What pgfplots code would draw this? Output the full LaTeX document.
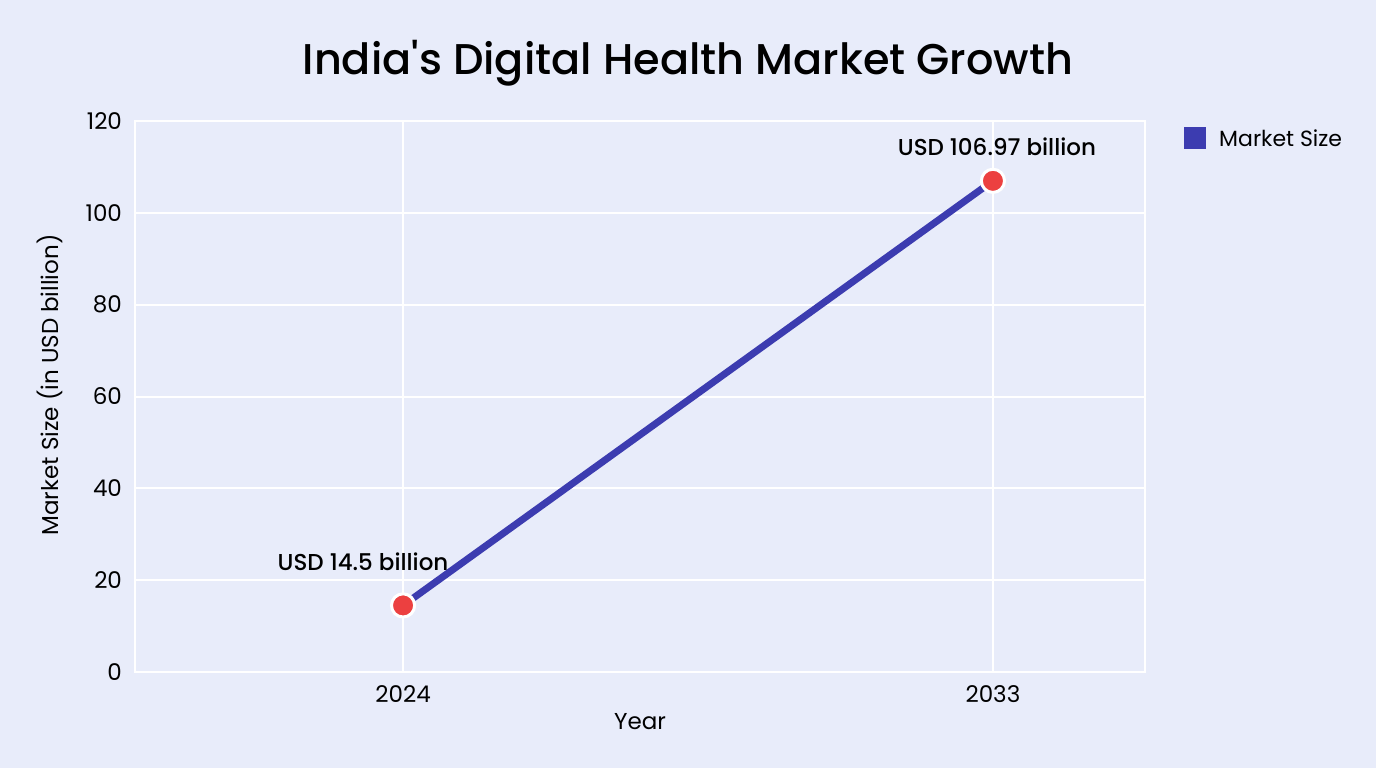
\documentclass[border=0pt]{standalone}
\usepackage{pgfplots}
\pgfplotsset{compat=1.18}
\usepackage{fontspec}
\setmainfont{Poppins}
\newfontfamily\titlefont{Poppins}[UprightFont=* Medium]
\newfontfamily\labelfont{Poppins}[UprightFont=* Medium]
\definecolor{bgcol}{RGB}{232,236,250}
\definecolor{linecol}{RGB}{60,60,176}
\definecolor{dotcol}{RGB}{236,64,64}
\begin{document}
\begin{tikzpicture}
% page background
\fill[bgcol] (0pt,0pt) rectangle (688pt,384pt);
\node[font=\titlefont\fontsize{21.5}{26}\selectfont] at (344pt,352.5pt) {India's Digital Health Market Growth};
\node[font=\fontsize{11.5}{14}\selectfont, rotate=90] at (25pt,191.5pt) {Market Size (in USD billion)};
\node[font=\fontsize{11.5}{14}\selectfont] at (320pt,23pt) {Year};
\begin{axis}[
  at={(67.5pt,48pt)}, anchor=south west,
  scale only axis, width=505pt, height=275.5pt,
  xmin=2019.91, xmax=2035.32, ymin=0, ymax=120,
  xtick={2024,2033}, ytick={0,20,...,120},
  xticklabel style={/pgf/number format/1000 sep={}},
  /pgf/number format/assume math mode=true,
  tick label style={font=\fontsize{11.5}{14}\selectfont},
  yticklabel style={xshift=-3pt},
  xticklabel style={yshift=-3pt},
  major tick length=0pt,
  grid=major, grid style={white, line width=1pt},
  axis line style={white, line width=1pt},
  axis background/.style={fill=bgcol},
  legend style={at={(1.0386,0.989)}, anchor=north west, draw=none, fill=none,
    font=\fontsize{11}{13}\selectfont, inner sep=0pt,
    nodes={inner sep=0pt, text depth=0pt}},
  legend cell align=left,
  clip=false,
]
\addplot[linecol, line width=3.5pt, mark=*, mark size=5.8pt,
  mark options={fill=dotcol, draw=white, line width=1.5pt}, forget plot]
  coordinates {(2024,14.5) (2033,106.97)};
\addlegendimage{legend image code/.code={\fill[linecol] (0pt,-5.25pt) rectangle (10.5pt,5.25pt);}}
\addlegendentry{\hspace{6.5pt}Market Size}
\node[font=\labelfont\fontsize{11.5}{14}\selectfont] at (axis cs:2024,14.5) [xshift=-20pt, yshift=22pt] {USD 14.5 billion};
\node[font=\labelfont\fontsize{11.5}{14}\selectfont] at (axis cs:2033,106.97) [xshift=2pt, yshift=17pt] {USD 106.97 billion};
\end{axis}
\end{tikzpicture}
\end{document}
